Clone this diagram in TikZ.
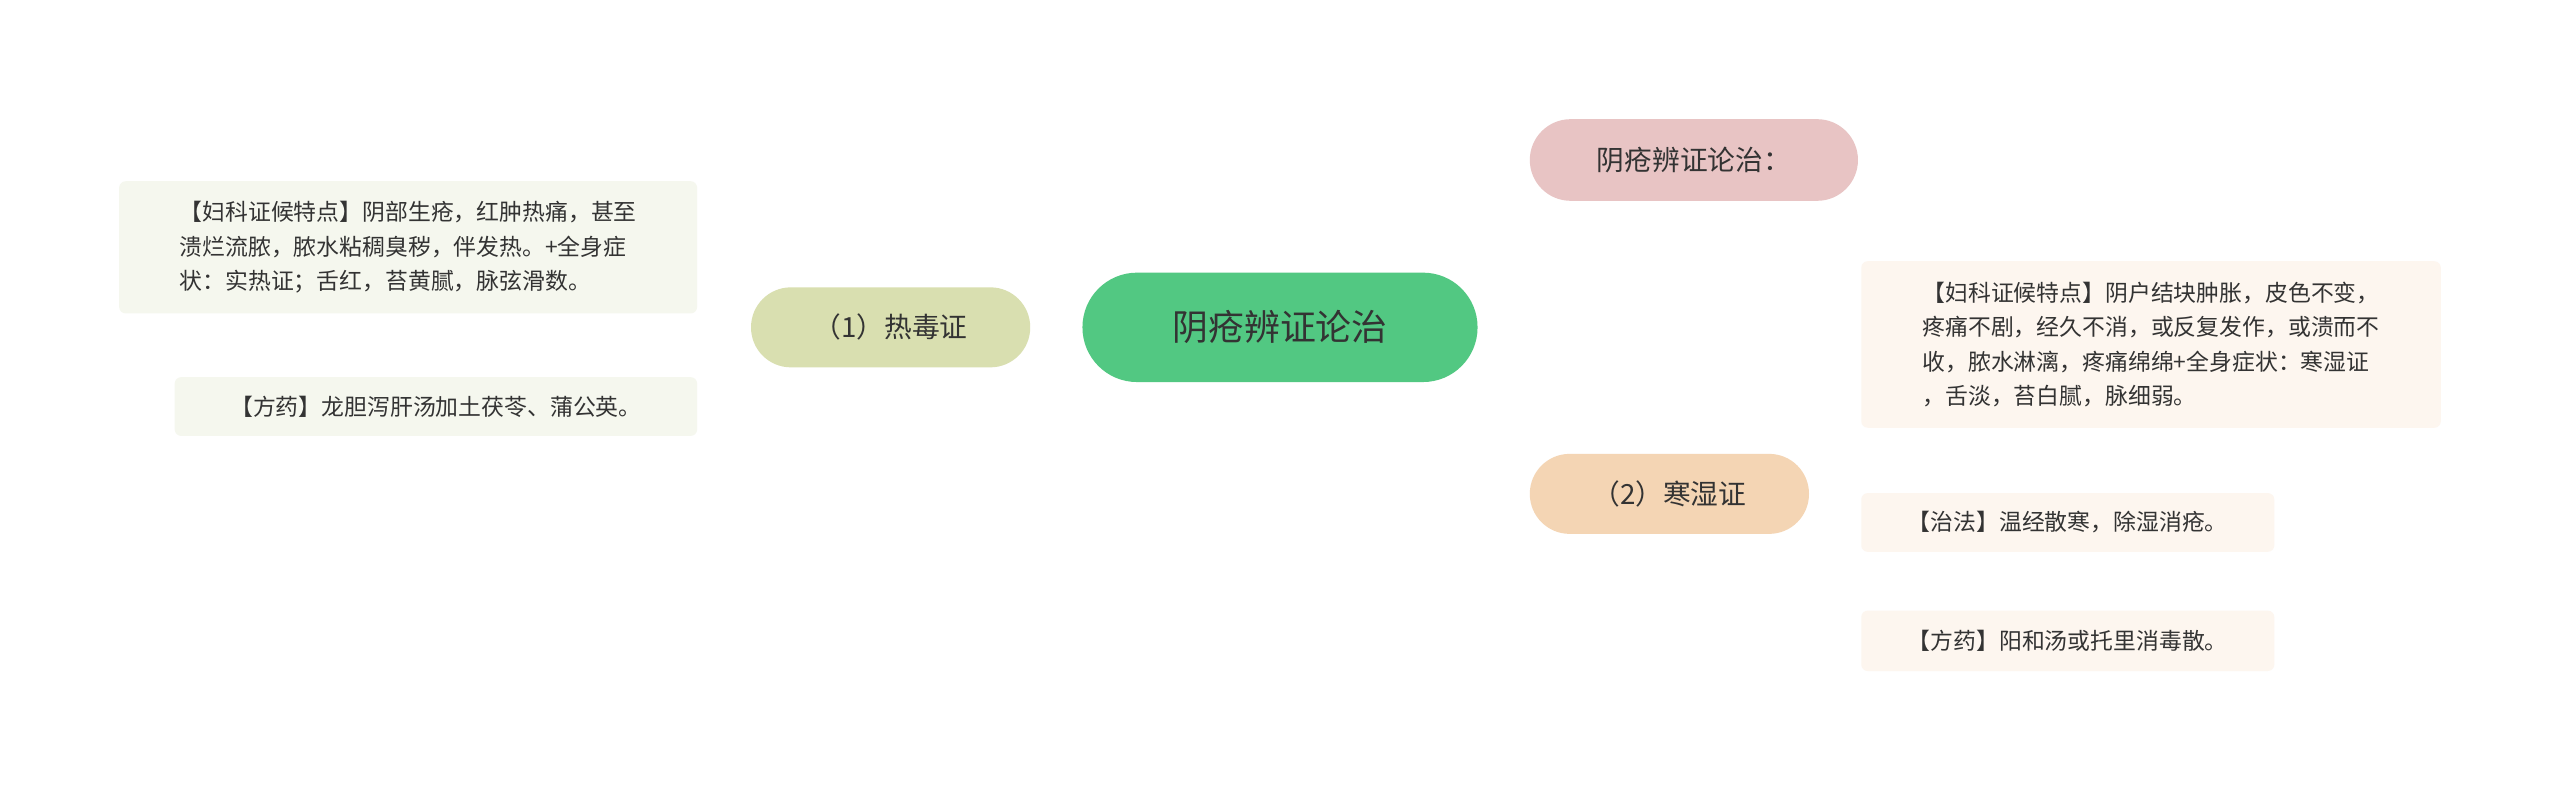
\documentclass[tikz,border=0pt]{standalone}
\usepackage{fontspec}
\setmainfont{Noto Sans CJK SC}
\usetikzlibrary{backgrounds}
\definecolor{cgreen}{HTML}{52C882}
\definecolor{cpink}{HTML}{E8C4C4}
\definecolor{corange}{HTML}{F4D5B4}
\definecolor{colive}{HTML}{D9DFB0}
\definecolor{lleaf}{HTML}{F5F7EE}
\definecolor{rleaf}{HTML}{FDF6EF}
\definecolor{lpink}{HTML}{E0B8B8}
\definecolor{lorange}{HTML}{F0D3B0}
\definecolor{lolive}{HTML}{D6DCAE}
\definecolor{txt}{HTML}{333333}
\begin{document}
\begin{tikzpicture}[x=0.5pt,y=-0.5pt,
  main/.style={rounded corners=16pt,inner sep=0pt,text=txt},
  leaf/.style={rounded corners=2pt,inner sep=0pt,text=txt,font=\fontsize{7}{10.5}\selectfont,align=left},
  conn/.style={line width=1pt}]
\useasboundingbox (0,0) rectangle (1568,486);
\fill[white] (0,0) rectangle (1568,486);
\node[main,fill=cgreen,minimum width=121pt,minimum height=33.5pt,font=\fontsize{11}{13}\selectfont,rounded corners=16.7pt] (c) at (784,200.5) {阴疮辨证论治};
\node[main,fill=cpink,minimum width=100.5pt,minimum height=25pt,font=\fontsize{8.5}{10}\selectfont,rounded corners=12.5pt] (p) at (1037.5,98) {阴疮辨证论治：};
\node[main,fill=corange,minimum width=85.5pt,minimum height=24.5pt,font=\fontsize{8.5}{10}\selectfont,rounded corners=12.2pt] (r) at (1022.5,302.5) {（2）寒湿证};
\node[main,fill=colive,minimum width=85.5pt,minimum height=24.5pt,font=\fontsize{8.5}{10}\selectfont,rounded corners=12.2pt] (l) at (545.5,200.5) {（1）热毒证};
\node[leaf,fill=lleaf,minimum width=177pt,minimum height=40.5pt] (l1) at (250,151.5) {【妇科证候特点】阴部生疮，红肿热痛，甚至\\溃烂流脓，脓水粘稠臭秽，伴发热。+全身症\\状：实热证；舌红，苔黄腻，脉弦滑数。};
\node[leaf,fill=lleaf,minimum width=160pt,minimum height=18pt] (l2) at (267,249) {【方药】龙胆泻肝汤加土茯苓、蒲公英。};
\node[leaf,fill=rleaf,minimum width=177.5pt,minimum height=51pt] (r1) at (1317.5,211) {【妇科证候特点】阴户结块肿胀，皮色不变，\\疼痛不剧，经久不消，或反复发作，或溃而不\\收，脓水淋漓，疼痛绵绵+全身症状：寒湿证\\，舌淡，苔白腻，脉细弱。};
\node[leaf,fill=rleaf,minimum width=126.5pt,minimum height=18pt] (r2) at (1266.5,320) {【治法】温经散寒，除湿消疮。};
\node[leaf,fill=rleaf,minimum width=126.5pt,minimum height=18.5pt] (r3) at (1266.5,392.5) {【方药】阳和汤或托里消毒散。};
\begin{scope}[on background layer]
\draw[conn,lpink] (c.north) .. controls (800,110) and (850,98) .. (p.west);
\draw[conn,lorange] (c.south) .. controls (800,290) and (850,302) .. (r.west);
\draw[conn,lolive] (c.west) -- (l.east);
\draw[conn,lolive] (l.west) -- (446,200.5) -- (446,165) .. controls (446,152) and (438,151.5) .. (l1.east);
\draw[conn,lolive] (446,200.5) -- (446,236) .. controls (446,248) and (438,249) .. (l2.east);
\draw[conn,lorange] (r.east) -- (1124,302.5) -- (1124,225) .. controls (1124,212) and (1132,211) .. (r1.west);
\draw[conn,lorange] (1124,302.5) -- (1124,308) .. controls (1124,318) and (1132,320) .. (r2.west);
\draw[conn,lorange] (1124,302.5) -- (1124,378) .. controls (1124,390) and (1132,392.5) .. (r3.west);
\end{scope}
\end{tikzpicture}
\end{document}
